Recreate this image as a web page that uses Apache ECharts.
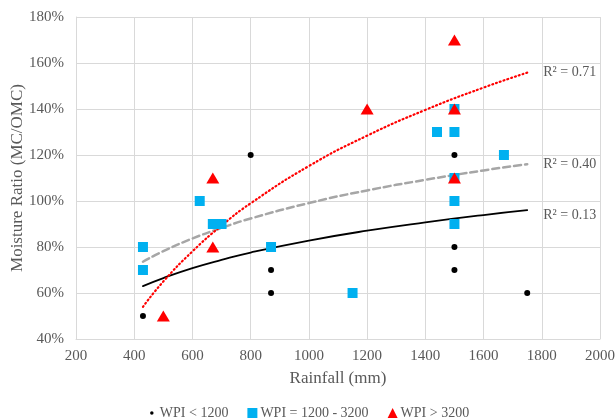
<!DOCTYPE html>
<html><head><meta charset="utf-8">
<script src="https://cdn.jsdelivr.net/npm/echarts@6/dist/echarts.min.js"></script>
<style>html,body{margin:0;padding:0;background:#fff}#c{width:616px;height:420px}</style>
</head><body><div id="c"></div>
<script>
// Scatter data (Rainfall mm, Moisture ratio %)
const lowX = [430, 800, 870, 870, 1500, 1500, 1500, 1750];
const lowY = [50, 120, 70, 60, 120, 80, 70, 60];
const midX = [430, 430, 625, 670, 700, 870, 1150, 1440, 1500, 1500, 1500, 1500, 1500, 1670];
const midY = [80, 70, 100, 90, 90, 80, 60, 130, 140, 130, 110, 100, 90, 120];
const highX = [500, 670, 670, 1200, 1500, 1500, 1500];
const highY = [50, 110, 80, 140, 170, 140, 110];
// Trendline values
const trendX = [430, 500, 600, 700, 800, 1000, 1200, 1400, 1600, 1750];
const trendLow = [63, 66.5, 70.8, 74.4, 77.6, 82.8, 87.1, 90.7, 93.9, 96];
const trendMid = [73.6, 78.2, 83.7, 88.3, 92.4, 99.1, 104.6, 109.2, 113.3, 116];
const trendHigh = [54, 65, 78.1, 89.3, 99.0, 115.2, 128.4, 139.6, 149.3, 155.8];
const r2Low = 'R² = 0.13', r2Mid = 'R² = 0.40', r2High = 'R² = 0.71';
const names = ['WPI < 1200', 'WPI = 1200 - 3200', 'WPI > 3200'];

const zip = (a, b) => a.map((v, i) => [v, b[i]]);
const serif = 'Liberation Serif';
const chart = echarts.init(document.getElementById('c'));
function trend(vals, color, type, width, label, offY) {
  return {
    type: 'line', data: zip(trendX, vals), smooth: true, symbol: 'none', z: 2,
    lineStyle: { color, type, width, cap: 'round' }, silent: true,
    endLabel: { show: true, formatter: label, distance: 16, offset: [0, offY],
      fontFamily: serif, fontSize: 14, color: '#595959' }
  };
}
chart.setOption({
  animation: false,
  grid: { left: 76, right: 16, top: 17, bottom: 81, outerBoundsMode: 'none', containLabel: false },
  legend: {
    top: 401, left: 'center', itemGap: 19, itemWidth: 10, itemHeight: 10,
    textStyle: { fontFamily: serif, fontSize: 14, color: '#595959', padding: [0, 0, 0, -2] },
    data: [
      { name: names[0], icon: 'path://M0,0M20,20M10,6.5A3.5,3.5 0 1,0 10.01,6.5Z', itemStyle: { color: '#000' } },
      { name: names[1], icon: 'rect' },
      { name: names[2], icon: 'triangle' }
    ]
  },
  xAxis: {
    type: 'value', min: 200, max: 2000, interval: 200,
    name: 'Rainfall (mm)', nameLocation: 'middle', nameGap: 31, nameMoveOverlap: false,
    nameTextStyle: { fontFamily: serif, fontSize: 17, color: '#595959' },
    axisLine: { show: true, lineStyle: { color: '#d9d9d9' } }, axisTick: { show: false },
    axisLabel: { fontFamily: serif, fontSize: 15, color: '#595959', margin: 10, formatter: v => String(v) },
    splitLine: { lineStyle: { color: '#d9d9d9', width: 1 } }
  },
  yAxis: {
    type: 'value', min: 40, max: 180, interval: 20,
    name: 'Moisture Ratio (MC/OMC)', nameLocation: 'middle', nameGap: 50, nameMoveOverlap: false,
    nameTextStyle: { fontFamily: serif, fontSize: 17, color: '#595959' },
    axisLine: { show: true, lineStyle: { color: '#d9d9d9' } }, axisTick: { show: false },
    axisLabel: { fontFamily: serif, fontSize: 15, color: '#595959', margin: 12, formatter: '{value}%' },
    splitLine: { lineStyle: { color: '#d9d9d9', width: 1 } }
  },
  series: [
    trend(trendLow, '#000000', 'solid', 1.8, r2Low, 5),
    trend(trendMid, '#a6a6a6', [7, 4], 2.5, r2Mid, 0),
    trend(trendHigh, '#ff0000', [1, 3], 2.2, r2High, 0),
    { name: names[0], type: 'scatter', data: zip(lowX, lowY), symbol: 'circle', symbolSize: 6, z: 5,
      itemStyle: { color: '#000', opacity: 1 } },
    { name: names[1], type: 'scatter', data: zip(midX, midY), symbol: 'rect', symbolSize: 10, z: 6,
      itemStyle: { color: '#00b0f0', opacity: 1 } },
    { name: names[2], type: 'scatter', data: zip(highX, highY), symbol: 'triangle', symbolSize: [13, 11], z: 7,
      itemStyle: { color: '#ff0000', opacity: 1 } }
  ]
});
</script></body></html>
